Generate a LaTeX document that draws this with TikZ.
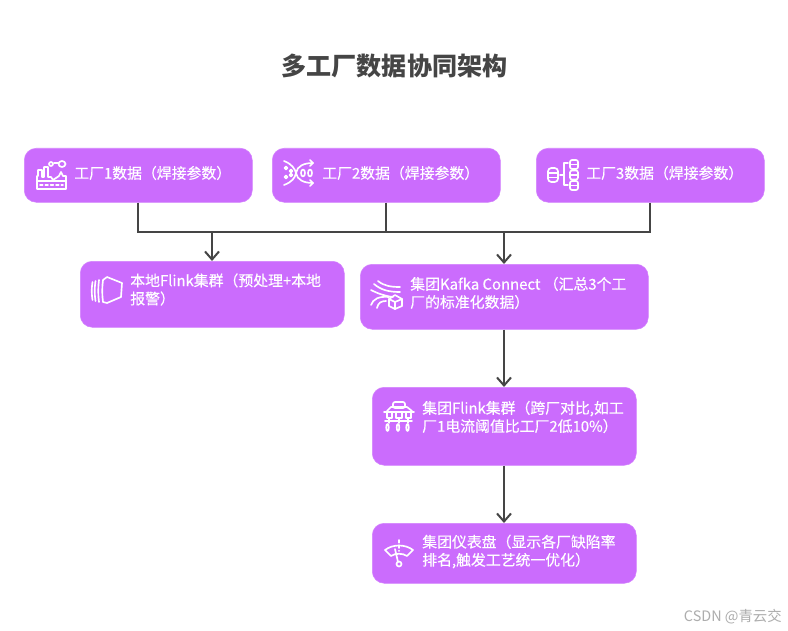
\documentclass[tikz,border=0pt]{standalone}
\usepackage{fontspec}
\setmainfont{Noto Sans CJK SC}
\newfontfamily\cardfont[FakeBold=0.3]{Noto Sans CJK SC}
\usetikzlibrary{arrows.meta}
\tikzset{
  x=0.75pt,y=-0.75pt,
  card/.style={fill=cardpurple,draw=cardpurple!85!white,line width=0.4pt,rounded corners=9pt,inner sep=0pt,anchor=north west},
  cardtext/.style={anchor=west,text=white,align=left,inner sep=0pt,font=\cardfont\fontsize{11.15pt}{13.6pt}\selectfont},
  wire/.style={draw=wiregray,line width=1.6pt},
  bus/.style={draw=wiregray,line width=2.1pt},
  flow/.style={wire,-{Straight Barb[length=6pt,width=10.5pt,line width=1.5pt]}},
  icon/.style={draw=white,line width=1.25pt,fill=none,line cap=round,line join=round},
}
\definecolor{cardpurple}{HTML}{CB6CFD}
\definecolor{wiregray}{HTML}{454545}
\begin{document}
\begin{tikzpicture}
\useasboundingbox (0,0) rectangle (788,631);
\fill[white] (0,0) rectangle (788,631);
\node[inner sep=0pt,text=wiregray,font=\fontsize{18.8pt}{22pt}\selectfont\bfseries] (title) at (394.5,66) {多工厂数据协同架构};
\node[card,minimum width=171pt,minimum height=40.5pt] (f1) at (24,148) {};
\node[card,minimum width=171pt,minimum height=40.5pt] (f2) at (272,148) {};
\node[card,minimum width=171pt,minimum height=40.5pt] (f3) at (536,148) {};
\node[card,minimum width=198pt,minimum height=49.5pt] (lf) at (80,261) {};
\node[card,minimum width=216pt,minimum height=48.75pt] (kc) at (360,264) {};
\node[card,minimum width=198pt,minimum height=58.5pt] (gf) at (372,387) {};
\node[card,minimum width=198pt,minimum height=45pt] (gd) at (372,523) {};
\node[cardtext] (t1) at (74,173) {工厂1数据（焊接参数）};
\node[cardtext] (t2) at (322,173) {工厂2数据（焊接参数）};
\node[cardtext] (t3) at (586,173) {工厂3数据（焊接参数）};
\node[cardtext] (t4) at (130,289.5) {本地Flink集群（预处理+本地\\报警）};
\node[cardtext] (t5) at (410,293) {集团Kafka Connect （汇总3个工\\厂的标准化数据）};
\node[cardtext] (t6) at (422,417) {集团Flink集群（跨厂对比,如工\\厂1电流阈值比工厂2低10\%）};
\node[cardtext] (t7) at (422,551.5) {集团仪表盘（显示各厂缺陷率\\排名,触发工艺统一优化）};
\node[inner sep=0pt,anchor=east,text=black!32,font=\fontsize{10.8pt}{12pt}\selectfont] (wm) at (782,617) {CSDN @青云交};
% connectors
\coordinate (b1) at (138,232);
\coordinate (b2) at (386,232);
\coordinate (b3) at (650,232);
\coordinate (a1) at (212,232);
\coordinate (a2) at (504,232);
\draw[wire,line join=miter] (f1.south -| b1) -- (b1);
\draw[wire,line join=miter] (f3.south -| b3) -- (b3);
\draw[bus,line cap=rect] (b1) -- (b3);
\draw[wire] (f2.south -| b2) -- (b2);
\draw[flow] (a1) -- (lf.north -| a1);
\draw[flow] (a2) -- (kc.north -| a2);
\draw[flow] (kc.south -| a2) -- (gf.north -| a2);
\draw[flow] (gf.south -| a2) -- (gd.north -| a2);
% icon 1 factory
\begin{scope}[shift={(37,158)}]
\draw[icon] (0,31)--(29,31)--(29,18)--(26,18)--(24,14)--(22,18)--(16,22)--(14,19)--(11,19)--(11,9)--(7,9)--(7,19)--(5,19)--(5,12)--(1,12)--(1,18)--(0,18)--cycle;
\draw[icon] (0,23)--(29,23);
\draw[icon,dash pattern=on 2pt off 2pt] (3,27)--(26,27);
\draw[icon] (25,6) ellipse (3.5 and 3);
\draw[icon] (14,6) circle (2);
\draw[icon] (17,5)--(21.5,5);
\end{scope}
% icon 2 flow
\begin{scope}[shift={(284,161)}]
\draw[icon] (0,0) .. controls (8,3) and (11,8) .. (12,12) .. controls (11,17) and (8,21) .. (0,24);
\draw[icon] (12,12) .. controls (13,5) and (20,2) .. (29,2);
\draw[icon] (12,12) .. controls (13,19) and (20,22) .. (29,22);
\draw[icon] (26,-1)--(29,2)--(26,5);
\draw[icon] (26,19)--(29,22)--(26,25);
\draw[icon] (19,12) ellipse (2 and 3.5);
\draw[icon] (26,12) ellipse (2 and 3.5);
\draw[icon] (2,7) circle (1.5);
\draw[icon] (7,10) circle (1.5);
\draw[icon] (2,16) circle (1.5);
\draw[icon] (7,14) circle (1.5);
\end{scope}
% icon 3 database tree
\begin{scope}[shift={(548,160)}]
\draw[icon,rounded corners=2.5pt] (0,8) rectangle (10,22);
\draw[icon] (0,13)--(10,13) (0,17.5)--(10,17.5);
\draw[icon] (12,15)--(16,15);
\draw[icon] (20,3)--(16,3)--(16,25)--(20,25);
\draw[icon,rounded corners=1.5pt] (22,0) rectangle (30,9);
\draw[icon] (22,4.5)--(30,4.5);
\draw[icon,rounded corners=1.5pt] (22,10.5) rectangle (30,19.5);
\draw[icon] (22,15)--(30,15);
\draw[icon,rounded corners=1.5pt] (22,21) rectangle (30,30);
\draw[icon] (22,25.5)--(30,25.5);
\end{scope}
% icon 4 layered panels
\begin{scope}[shift={(92,277)}]
\draw[icon] (11,3) .. controls (10,10) and (10,18) .. (11,25) -- (15,26) -- (29,20) -- (30,6) -- (15,0) -- cycle;
\draw[icon] (7,3) .. controls (6,10) and (6,18) .. (7,25);
\draw[icon] (3.5,4) .. controls (2.5,10) and (2.5,18) .. (3.5,24);
\draw[icon] (0.5,5) .. controls (-0.5,11) and (-0.5,17) .. (0.5,23);
\end{scope}
% icon 5 streams and cube
\begin{scope}[shift={(371,281)}]
\draw[icon] (7,0) .. controls (13,5) and (20,6) .. (29,6);
\draw[icon] (3,3) .. controls (10,9) and (18,11) .. (29,11);
\draw[icon] (0,9) .. controls (8,13) and (14,15) .. (22,16);
\draw[icon] (0,24) .. controls (2,18) and (8,15) .. (18,16);
\draw[icon] (6,27) .. controls (7,22) and (10,20) .. (15,20);
\draw[icon] (24,14)--(31,18)--(31,25)--(24,28)--(18,25)--(18,18)--cycle;
\draw[icon] (18,18)--(24,21)--(31,18);
\draw[icon] (24,21)--(24,28);
\end{scope}
% icon 6 cluster
\begin{scope}[shift={(384,402)}]
\draw[icon,rounded corners=1.5pt] (9,0) rectangle (21,6);
\draw[icon] (3,9)--(7,5)--(23,5)--(28,9);
\draw[icon] (0,10)--(30,10);
\draw[icon] (3,10) rectangle (8,16);
\draw[icon] (12,10) rectangle (18,16);
\draw[icon] (22,10) rectangle (27,16);
\draw[icon] (5,16)--(5,21) (15,16)--(15,21) (24,16)--(24,21);
\draw[icon] (1,19)--(28,19);
\draw[icon] (3.5,25.5) ellipse (1.3 and 3.5);
\draw[icon] (14,25.5) ellipse (1.3 and 3.5);
\draw[icon] (23.5,25.5) ellipse (1.3 and 3.5);
\end{scope}
% icon 7 gauge
\begin{scope}[shift={(385,539)}]
\draw[icon] (0,11) .. controls (8,5) and (20,5) .. (28,11) -- (22,17) .. controls (18,14) and (10,14) .. (6,17) -- cycle;
\draw[icon,dash pattern=on 2pt off 2pt] (14,1)--(14,12);
\draw[icon] (10,10)--(13,23);
\draw[icon] (14,25) circle (2.5);
\end{scope}
\end{tikzpicture}
\end{document}
